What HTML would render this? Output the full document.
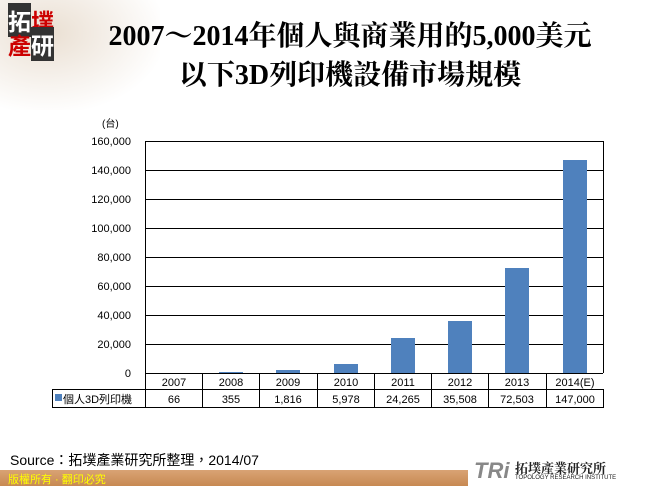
<!DOCTYPE html>
<html><head><meta charset="utf-8"><style>
body{margin:0;width:649px;height:486px;overflow:hidden;background:#fff;position:relative;font-family:"Liberation Sans","Noto Sans CJK TC",sans-serif}
.t{position:absolute;left:0;width:700px;text-align:center;font-family:"Liberation Serif","Noto Serif CJK SC",serif;font-weight:bold;font-size:28px;color:#000}
</style></head><body>
<div style="position:absolute;left:0;top:0;width:160px;height:110px;background:radial-gradient(ellipse at 30% 30%,#eadfd2,#fff 75%)"></div>
<div style="position:absolute;left:8px;top:8px;width:52px;height:52px;font-family:'Noto Sans CJK TC',sans-serif;font-size:23px;line-height:24px;font-weight:bold">
<span style="background:#333;color:#fff">拓</span><span style="color:#c00">墣</span><br><span style="color:#c00">產</span><span style="background:#333;color:#fff">研</span></div>
<div class="t" style="top:14px;">2007～2014年個人與商業用的5,000美元</div>
<div class="t" style="top:53px;">以下3D列印機設備市場規模</div>
<svg width="649" height="486" style="position:absolute;left:0;top:0" font-family="Liberation Sans, Noto Sans CJK TC, sans-serif" font-size="11">
<text x="102" y="127" font-size="10">(台)</text>
<g stroke="#000" stroke-width="1">
<line x1="145" y1="141.5" x2="603" y2="141.5"/><line x1="145" y1="170.5" x2="603" y2="170.5"/><line x1="145" y1="199.5" x2="603" y2="199.5"/><line x1="145" y1="228.5" x2="603" y2="228.5"/><line x1="145" y1="257.5" x2="603" y2="257.5"/><line x1="145" y1="286.5" x2="603" y2="286.5"/><line x1="145" y1="315.5" x2="603" y2="315.5"/><line x1="145" y1="344.5" x2="603" y2="344.5"/>
<line x1="603.5" y1="141" x2="603.5" y2="373"/><line x1="145.5" y1="141" x2="145.5" y2="373"/>
</g>
<g text-anchor="end">
<text x="131" y="145">160,000</text><text x="131" y="174">140,000</text><text x="131" y="203">120,000</text><text x="131" y="232">100,000</text><text x="131" y="261">80,000</text><text x="131" y="290">60,000</text><text x="131" y="319">40,000</text><text x="131" y="348">20,000</text><text x="131" y="377">0</text>
</g>
<g fill="#4f81bd">
<rect x="391" y="338" width="24" height="35"/><rect x="448" y="321" width="24" height="52"/><rect x="505" y="268" width="24" height="105"/><rect x="563" y="160" width="24" height="213"/>
<rect x="334" y="364" width="24" height="9"/><rect x="276" y="370" width="24" height="3"/><rect x="219" y="372" width="24" height="1"/>
</g>
<g stroke="#000" stroke-width="1" fill="none">
<line x1="145" y1="373.5" x2="603" y2="373.5"/>
<rect x="52.5" y="389.5" width="551" height="18"/>
<line x1="145.5" y1="373" x2="145.5" y2="408"/>
<line x1="202.5" y1="373" x2="202.5" y2="408"/><line x1="259.5" y1="373" x2="259.5" y2="408"/><line x1="317.5" y1="373" x2="317.5" y2="408"/><line x1="374.5" y1="373" x2="374.5" y2="408"/><line x1="431.5" y1="373" x2="431.5" y2="408"/><line x1="488.5" y1="373" x2="488.5" y2="408"/><line x1="546.5" y1="373" x2="546.5" y2="408"/>
</g>
<g text-anchor="middle">
<text x="174" y="386">2007</text><text x="231" y="386">2008</text><text x="288" y="386">2009</text><text x="346" y="386">2010</text><text x="403" y="386">2011</text><text x="460" y="386">2012</text><text x="517" y="386">2013</text><text x="575" y="386">2014(E)</text>
<text x="174" y="403">66</text><text x="231" y="403">355</text><text x="288" y="403">1,816</text><text x="346" y="403">5,978</text><text x="403" y="403">24,265</text><text x="460" y="403">35,508</text><text x="517" y="403">72,503</text><text x="575" y="403">147,000</text>
</g>
<rect x="55" y="394" width="7" height="7" fill="#4f81bd"/>
<text x="63" y="403">個人3D列印機</text>
</svg>
<div style="position:absolute;left:10px;top:450px;font-size:14px;color:#000">Source：拓墣產業研究所整理，2014/07</div>
<div style="position:absolute;left:0;top:470px;width:649px;height:16px;background:linear-gradient(#d9a374,#c78952)"></div>
<div style="position:absolute;left:8px;top:471px;font-size:11px;color:#ff0">版權所有 · 翻印必究</div>
<div style="position:absolute;left:468px;top:455px;width:181px;height:31px;background:#fff;border-radius:12px 0 0 0"></div>
<div style="position:absolute;left:474px;top:458px;font-size:22px;font-weight:bold;color:#888;font-style:italic">TRi</div>
<div style="position:absolute;left:515px;top:458px;font-size:13px;font-weight:bold;color:#222;font-family:'Noto Serif CJK SC',serif">拓墣產業研究所</div>
<div style="position:absolute;left:515px;top:475px;font-size:6px;color:#222">TOPOLOGY RESEARCH INSTITUTE</div>
</body></html>
